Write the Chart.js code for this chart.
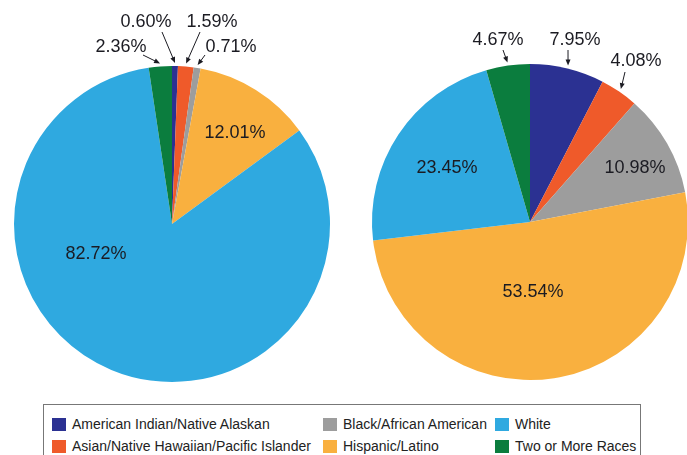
<!DOCTYPE html>
<html>
<head>
<meta charset="utf-8">
<script src="https://cdn.jsdelivr.net/npm/chart.js@4/dist/chart.umd.min.js"></script>
<style>
    body { margin: 0; background: #fff; overflow: hidden; width: 687px; height: 455px; position: relative; }
    #leftChart { position: absolute; left: 0; top: 0; }
    #rightChart { position: absolute; left: 345px; top: 0; }
    #legend {
        position: absolute; left: 43px; top: 404px; width: 598px; height: 60px;
        border: 1px solid #777; box-sizing: border-box;
        font-family: "Liberation Sans", Arial, sans-serif; font-size: 14px; color: #222;
    }
    .item { position: absolute; white-space: nowrap; line-height: 16px; }
    .swatch { display: inline-block; width: 14px; height: 13px; vertical-align: -2px; margin-right: 6px; }
</style>
</head>
<body>
<canvas id="leftChart" width="345" height="400"></canvas>
<canvas id="rightChart" width="345" height="400"></canvas>
<div id="legend"></div>
<script>
const categories = [
    "American Indian/Native Alaskan",
    "Asian/Native Hawaiian/Pacific Islander",
    "Black/African American",
    "Hispanic/Latino",
    "White",
    "Two or More Races"
];
const leftValues = [0.60, 1.59, 0.71, 12.01, 82.72, 2.36];
const rightValues = [7.95, 4.08, 10.98, 53.54, 23.45, 4.67];

const colors = [
    "#2b3192",
    "#ef5a2a",
    "#9d9d9d",
    "#f9b03f",
    "#2fa9e0",
    "#0b7d3e"
];

// label placement, pixels from the pie centre; tail = arrow start (null = label inside slice)
const leftPlacement = [
    { text: [-26, -202], tail: [-10, -192] },
    { text: [40, -202], tail: [28, -192] },
    { text: [59, -177], tail: [33, -169] },
    { text: [63, -91], tail: null },
    { text: [-76, 30], tail: null },
    { text: [-51, -177], tail: [-29, -169] }
];
const rightPlacement = [
    { text: [45, -182], tail: [38, -172] },
    { text: [106, -161], tail: [95, -150] },
    { text: [105, -54], tail: null },
    { text: [3, 70], tail: null },
    { text: [-83, -54], tail: null },
    { text: [-32, -182], tail: [-27, -172] }
];

function sliceLabels(placement) {
    return {
        id: 'sliceLabels',
        afterDraw: function(chart) {
            var ctx = chart.ctx;
            var arcs = chart.getDatasetMeta(0).data;
            var values = chart.data.datasets[0].data;
            ctx.save();
            ctx.font = '18px "Liberation Sans", Arial, sans-serif';
            ctx.fillStyle = '#1b1b22';
            ctx.strokeStyle = '#1b1b22';
            ctx.textAlign = 'center';
            ctx.textBaseline = 'middle';
            arcs.forEach(function(arc, i) {
                var p = placement[i];
                var cx = arc.x, cy = arc.y;
                ctx.fillText(values[i].toFixed(2) + '%', cx + p.text[0], cy + p.text[1]);
                if (!p.tail) return;
                var mid = (arc.startAngle + arc.endAngle) / 2;
                var tx = cx + Math.cos(mid) * (arc.outerRadius + 3);
                var ty = cy + Math.sin(mid) * (arc.outerRadius + 3);
                var sx = cx + p.tail[0], sy = cy + p.tail[1];
                var ang = Math.atan2(ty - sy, tx - sx);
                ctx.lineWidth = 1;
                ctx.beginPath();
                ctx.moveTo(sx, sy);
                ctx.lineTo(tx - Math.cos(ang) * 4, ty - Math.sin(ang) * 4);
                ctx.stroke();
                ctx.beginPath();
                ctx.moveTo(tx, ty);
                ctx.lineTo(tx - Math.cos(ang) * 6 + Math.sin(ang) * 2.5, ty - Math.sin(ang) * 6 - Math.cos(ang) * 2.5);
                ctx.lineTo(tx - Math.cos(ang) * 6 - Math.sin(ang) * 2.5, ty - Math.sin(ang) * 6 + Math.cos(ang) * 2.5);
                ctx.closePath();
                ctx.fill();
            });
            ctx.restore();
        }
    };
}

function makePie(id, values, padding, placement) {
    var ctx = document.getElementById(id).getContext('2d');
    return new Chart(ctx, {
        type: 'pie',
        data: {
            labels: categories,
            datasets: [{
                data: values,
                backgroundColor: colors,
                borderWidth: 0,
                hoverBorderWidth: 0,
                hoverOffset: 0
            }]
        },
        options: {
            responsive: false,
            animation: false,
            events: [],
            layout: { padding: padding },
            plugins: {
                legend: { display: false },
                tooltip: { enabled: false }
            }
        },
        plugins: [sliceLabels(placement)]
    });
}

makePie('leftChart', leftValues, { left: 14, right: 15, top: 66, bottom: 18 }, leftPlacement);
makePie('rightChart', rightValues, { left: 27, right: 2, top: 64, bottom: 20 }, rightPlacement);

// legend: three columns, filled column by column
var legendCols = [8, 279, 451];
var legendRows = [11, 33];
var legend = document.getElementById('legend');
categories.forEach(function(name, i) {
    var item = document.createElement('div');
    item.className = 'item';
    item.style.left = legendCols[Math.floor(i / 2)] + 'px';
    item.style.top = legendRows[i % 2] + 'px';
    item.innerHTML = '<span class="swatch" style="background:' + colors[i] + '"></span>' + name;
    legend.appendChild(item);
});
</script>
</body>
</html>
